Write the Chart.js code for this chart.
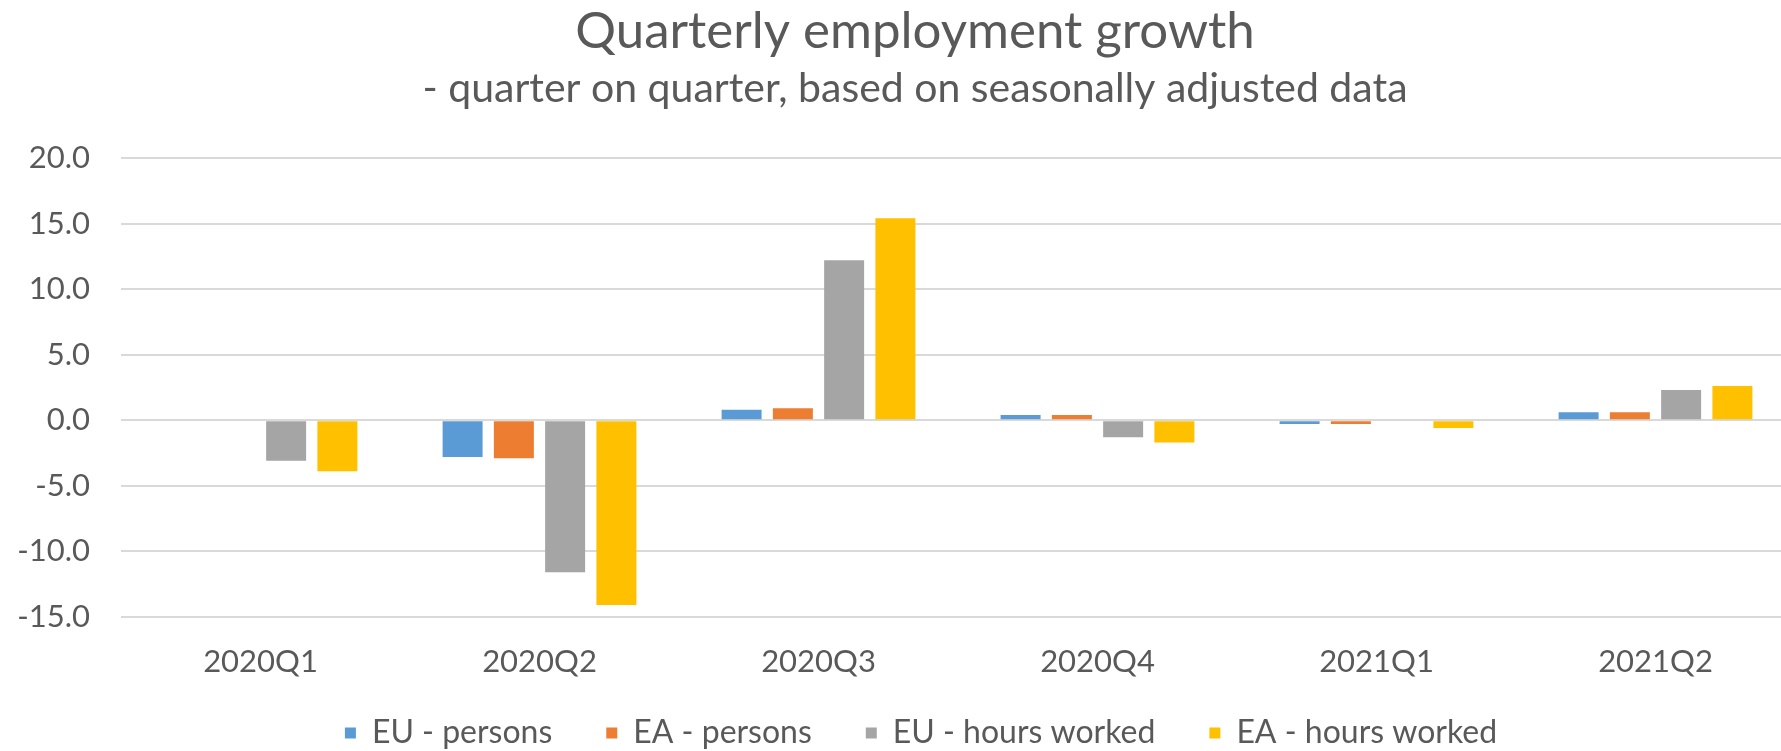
<!DOCTYPE html>
<html>
<head>
<meta charset="utf-8">
<script src="https://cdn.jsdelivr.net/npm/chart.js@4/dist/chart.umd.min.js"></script>
<style>
  html, body { margin: 0; padding: 0; background: #ffffff; overflow: hidden; }
  #wrap { width: 1781px; height: 751px; overflow: hidden; }
  canvas { display: block; }
</style>
</head>
<body>
<div id="wrap"><canvas id="c" width="1830" height="777"></canvas></div>
<script>
const categories = ["2020Q1", "2020Q2", "2020Q3", "2020Q4", "2021Q1", "2021Q2"];
const euPersons = [0.0, -2.8, 0.8, 0.4, -0.3, 0.6];
const eaPersons = [0.0, -2.9, 0.9, 0.4, -0.3, 0.6];
const euHours = [-3.1, -11.6, 12.2, -1.3, 0.0, 2.3];
const eaHours = [-3.9, -14.1, 15.4, -1.7, -0.6, 2.6];
const seriesNames = ["EU - persons", "EA - persons", "EU - hours worked", "EA - hours worked"];
const titleText = "Quarterly employment growth";
const subtitleText = "- quarter on quarter, based on seasonally adjusted data";

const FONT = "Lato, 'Open Sans', sans-serif";
const TEXT = "#595959";

const colors = ["#5B9BD5", "#ED7D31", "#A5A5A5", "#FFC000"];
const values = [euPersons, eaPersons, euHours, eaHours];

// The original chart is wider than the picture (cropped on the right):
// centre title / subtitle / legend over the original chart width,
// and pull the legend up closer to the axis labels.
const layoutTweak = {
  id: "layoutTweak",
  afterLayout(chart) {
    chart.boxes.forEach((b) => {
      if (b.id && chart.scales[b.id] === b) return;
      b.left = (b === chart.legend) ? 47 : 35;
      b.width = b.right - b.left;
      if (b === chart.legend) {
        b.top -= 18;
        b.bottom -= 18;
      }
    });
  }
};

new Chart(document.getElementById("c"), {
  type: "bar",
  data: {
    labels: categories,
    datasets: values.map((v, i) => ({
      label: seriesNames[i],
      data: v,
      backgroundColor: colors[i],
      borderWidth: 0,
      categoryPercentage: 0.735,
      barPercentage: 0.78
    }))
  },
  plugins: [layoutTweak],
  options: {
    responsive: false,
    devicePixelRatio: 1,
    animation: false,
    layout: { padding: { left: 0, right: 35, top: 0, bottom: 0 } },
    plugins: {
      title: {
        display: true,
        text: titleText,
        color: TEXT,
        font: { family: FONT, size: 51, weight: "normal" },
        padding: { top: 1, bottom: 0 }
      },
      subtitle: {
        display: true,
        text: subtitleText,
        color: TEXT,
        font: { family: FONT, size: 41, weight: "normal" },
        padding: { top: 2, bottom: 44.6 }
      },
      legend: {
        position: "bottom",
        labels: {
          color: TEXT,
          font: { family: FONT, size: 32 },
          boxWidth: 11,
          boxHeight: 11,
          padding: 54
        }
      },
      tooltip: { enabled: false }
    },
    scales: {
      x: {
        grid: { display: false, drawTicks: false },
        border: { display: false },
        ticks: {
          color: TEXT,
          font: { family: FONT, size: 31 },
          padding: 27,
          maxRotation: 0
        },
        afterFit: (s) => { s.height = 64.2; }
      },
      y: {
        min: -15,
        max: 20,
        grid: { color: "#D9D9D9", lineWidth: 2, drawTicks: false },
        border: { display: false },
        ticks: {
          stepSize: 5,
          color: TEXT,
          font: { family: FONT, size: 31 },
          padding: 31,
          callback: (v) => Number(v).toFixed(1)
        },
        afterFit: (s) => { s.width = 121; }
      }
    }
  }
});
</script>
</body>
</html>
